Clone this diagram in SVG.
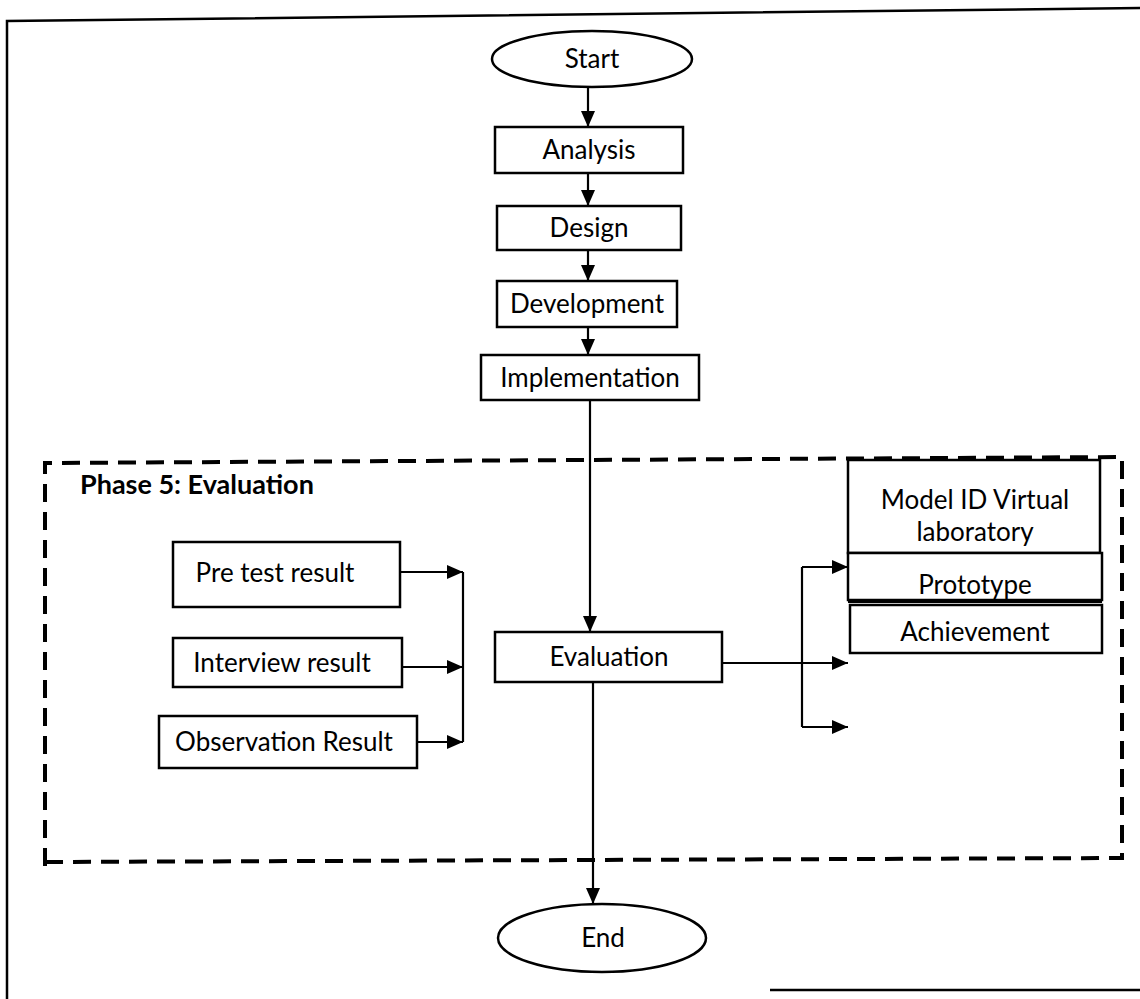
<svg xmlns="http://www.w3.org/2000/svg" width="1140" height="999" viewBox="0 0 1140 999">
<style>
  .box{fill:#fff;stroke:#000;stroke-width:2.5}
  .ell{fill:#fff;stroke:#000;stroke-width:2.5}
  .t{font-family:Lato,"Liberation Sans",sans-serif;font-size:26px;fill:#000;text-anchor:middle}
  .c{stroke:#000;stroke-width:2.2;fill:none}
  .ca{stroke:#000;stroke-width:2.2;fill:none;marker-end:url(#ah)}
  .frame{stroke:#000;stroke-width:2.5;fill:none}
  .dash{stroke:#000;stroke-width:4;fill:none;stroke-dasharray:18 10}
</style>
<defs>
  <marker id="ah" viewBox="0 0 16 14" refX="16" refY="7" markerWidth="16" markerHeight="14" markerUnits="userSpaceOnUse" orient="auto">
    <path d="M0,0 L16,7 L0,14 z" fill="#000"/>
  </marker>
</defs>
<rect width="1140" height="999" fill="#fff"/>
<g id="frame">
  <path class="frame" d="M7,999 V21 L1140,8"/>
  <path class="frame" d="M770,990 H1140"/>
</g>
<g id="phase5">
  <path class="dash" d="M45,866 V463 L1122,457 V858 L45,862"/>
  <text x="80" y="494" style="font-family:Lato,'Liberation Sans',sans-serif;font-size:27px;font-weight:bold">Phase 5: Evaluation</text>
</g>
<g id="connectors">
  <line class="ca" x1="588" y1="87" x2="588" y2="127"/>
  <line class="ca" x1="588" y1="173" x2="588" y2="206"/>
  <line class="ca" x1="588" y1="250" x2="588" y2="281"/>
  <line class="ca" x1="588" y1="327" x2="588" y2="355"/>
  <line class="ca" x1="590" y1="400" x2="590" y2="632"/>
  <line class="ca" x1="593" y1="682" x2="593" y2="904"/>
  <line class="ca" x1="400" y1="572" x2="463" y2="572"/>
  <line class="ca" x1="402" y1="667" x2="463" y2="667"/>
  <line class="ca" x1="417" y1="742" x2="463" y2="742"/>
  <line class="c" x1="463" y1="572" x2="463" y2="742"/>
  <line class="ca" x1="722" y1="663" x2="848" y2="663"/>
  <line class="c" x1="802" y1="567" x2="802" y2="727"/>
  <line class="ca" x1="802" y1="567" x2="848" y2="567"/>
  <line class="ca" x1="802" y1="727" x2="848" y2="727"/>
</g>
<g id="start">
  <ellipse class="ell" cx="592" cy="59" rx="100" ry="28"/>
  <text class="t" x="592" y="68">Start</text>
</g>
<g id="analysis">
  <rect class="box" x="495" y="127" width="188" height="46"/>
  <text class="t" x="589" y="159">Analysis</text>
</g>
<g id="design">
  <rect class="box" x="497" y="206" width="184" height="44"/>
  <text class="t" x="589" y="237">Design</text>
</g>
<g id="development">
  <rect class="box" x="497" y="281" width="180" height="46"/>
  <text class="t" x="587" y="313">Development</text>
</g>
<g id="implementation">
  <rect class="box" x="481" y="355" width="218" height="45"/>
  <text class="t" x="590" y="387">Implementation</text>
</g>
<g id="pretest">
  <rect class="box" x="173" y="542" width="227" height="65"/>
  <text class="t" x="275" y="582">Pre test result</text>
</g>
<g id="interview">
  <rect class="box" x="173" y="638" width="229" height="49"/>
  <text class="t" x="282" y="672">Interview result</text>
</g>
<g id="observation">
  <rect class="box" x="159" y="716" width="258" height="52"/>
  <text class="t" x="284" y="751">Observation Result</text>
</g>
<g id="evaluation">
  <rect class="box" x="495" y="632" width="227" height="50"/>
  <text class="t" x="609" y="666">Evaluation</text>
</g>
<g id="model">
  <rect class="box" x="848" y="460" width="252" height="93"/>
  <text class="t" x="975" y="509">Model ID Virtual</text>
  <text class="t" x="975" y="541">laboratory</text>
</g>
<g id="prototype">
  <rect class="box" x="848" y="553" width="254" height="47"/>
  <text class="t" x="975" y="594">Prototype</text>
  <line x1="848" y1="601" x2="1102" y2="601" stroke="#000" stroke-width="4"/>
</g>
<g id="achievement">
  <rect class="box" x="850" y="605" width="252" height="48"/>
  <text class="t" x="975" y="641">Achievement</text>
</g>
<g id="end">
  <ellipse class="ell" cx="602" cy="938" rx="104" ry="34"/>
  <text class="t" x="603" y="947">End</text>
</g>
</svg>
